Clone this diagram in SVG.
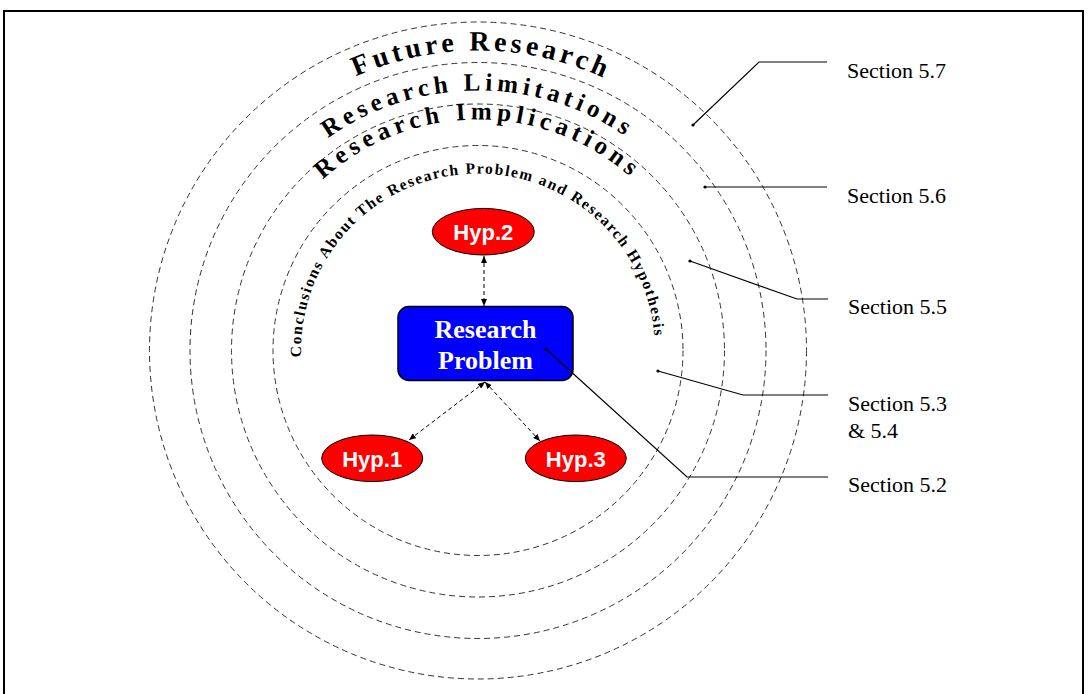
<svg xmlns="http://www.w3.org/2000/svg" width="1088" height="694" viewBox="0 0 1088 694">
<style>
.ring{fill:none;stroke:#333;stroke-width:1;stroke-dasharray:6 4}
.arc{font-family:"Liberation Serif","Times New Roman",serif;font-weight:bold;fill:#000}
.lead{fill:none;stroke:#000;stroke-width:1.2}
.dot{fill:#000}
.sec{font-family:"Liberation Serif","Times New Roman",serif;font-size:22px;fill:#000}
.hyp{fill:#ff0000;stroke:#000;stroke-width:1}
.hypt{font-family:"Liberation Sans",Arial,sans-serif;font-weight:bold;font-size:22px;fill:#fff;text-anchor:middle}
.link{fill:none;stroke:#000;stroke-width:1;stroke-dasharray:4 3;marker-start:url(#ah);marker-end:url(#ah)}
</style>
<defs>
<marker id="ah" markerUnits="userSpaceOnUse" markerWidth="7" markerHeight="6" refX="7" refY="3" orient="auto-start-reverse">
<path d="M0,0 L7,3 L0,6 z" fill="#000"/>
</marker>
<path id="p300" d="M 478 650.5 A 300 300 0 1 1 478 50.5 A 300 300 0 1 1 478 650.5"/>
<path id="p260" d="M 478 610.5 A 260 260 0 1 1 478 90.5 A 260 260 0 1 1 478 610.5"/>
<path id="p231" d="M 478 581.5 A 231 231 0 1 1 478 119.5 A 231 231 0 1 1 478 581.5"/>
<path id="p177" d="M 478 527.5 A 177 177 0 1 1 478 173.5 A 177 177 0 1 1 478 527.5"/>
</defs>
<rect width="1088" height="694" fill="#fff"/>
<path d="M4,696 L4,11 L1083,11 L1083,696" fill="none" stroke="#000" stroke-width="2"/>
<g id="rings">
<circle class="ring" cx="478" cy="350.5" r="328.5"/>
<circle class="ring" cx="478" cy="350.5" r="288"/>
<circle class="ring" cx="478" cy="350.5" r="246.5"/>
<circle class="ring" cx="478" cy="350.5" r="205"/>
</g>
<g id="arc-labels">
<text class="arc" font-size="28" letter-spacing="4"><textPath href="#p300" startOffset="50.2%" text-anchor="middle">Future Research</textPath></text>
<text class="arc" font-size="25" letter-spacing="4.6"><textPath href="#p260" startOffset="50%" text-anchor="middle">Research Limitations</textPath></text>
<text class="arc" font-size="25" letter-spacing="4.9"><textPath href="#p231" startOffset="50%" text-anchor="middle">Research Implications</textPath></text>
<text class="arc" font-size="15.5" letter-spacing="1.6"><textPath href="#p177" startOffset="49.1%" text-anchor="middle">Conclusions About The Research Problem and Research Hypothesis</textPath></text>
</g>
<g id="connectors">
<line class="link" x1="484" y1="256" x2="484" y2="306"/>
<line class="link" x1="485" y1="382" x2="409" y2="440"/>
<line class="link" x1="485" y1="382" x2="540" y2="441"/>
</g>
<g id="research-problem">
<rect x="398" y="306.5" width="175" height="74" rx="11" fill="#0000ff" stroke="#000" stroke-width="1.5"/>
<text font-family="'Liberation Serif','Times New Roman',serif" font-weight="bold" font-size="26" fill="#fff" text-anchor="middle"><tspan x="485.5" y="337.5">Research</tspan><tspan x="485.5" y="368.5">Problem</tspan></text>
</g>
<g id="hyp2">
<ellipse class="hyp" cx="483.3" cy="231.7" rx="51" ry="23.3"/>
<text class="hypt" x="483.3" y="240">Hyp.2</text>
</g>
<g id="hyp1">
<ellipse class="hyp" cx="372.2" cy="458.3" rx="50.5" ry="23.3"/>
<text class="hypt" x="372.2" y="467">Hyp.1</text>
</g>
<g id="hyp3">
<ellipse class="hyp" cx="575.8" cy="458.3" rx="50.5" ry="23.3"/>
<text class="hypt" x="575.8" y="467">Hyp.3</text>
</g>
<g id="leaders">
<polyline class="lead" points="693,125 759,62 827,62"/>
<circle class="dot" cx="693" cy="125" r="1.6"/>
<polyline class="lead" points="705,187 827,187"/>
<circle class="dot" cx="705" cy="187" r="1.6"/>
<polyline class="lead" points="690,261 797,299 828,299"/>
<circle class="dot" cx="690" cy="261" r="1.6"/>
<polyline class="lead" points="658,371 743,395 828,395"/>
<circle class="dot" cx="658" cy="371" r="1.6"/>
<polyline class="lead" points="546,349 687,477 828,477"/>
<circle class="dot" cx="546" cy="349" r="1.6"/>
</g>
<g id="section-labels">
<text class="sec" x="847" y="78">Section 5.7</text>
<text class="sec" x="847" y="203">Section 5.6</text>
<text class="sec" x="848" y="314">Section 5.5</text>
<text class="sec" x="848" y="411">Section 5.3</text>
<text class="sec" x="848" y="438">&amp; 5.4</text>
<text class="sec" x="848" y="492">Section 5.2</text>
</g>
</svg>
